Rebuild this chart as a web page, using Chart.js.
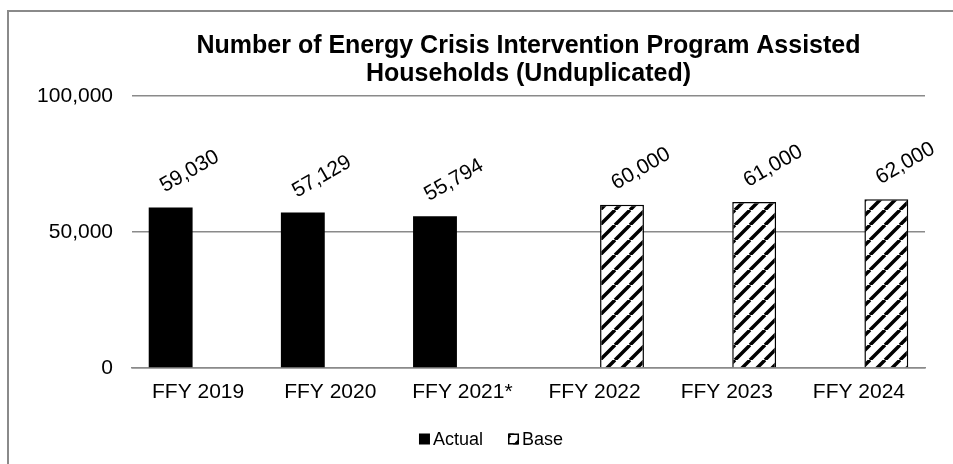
<!DOCTYPE html>
<html>
<head>
<meta charset="utf-8">
<script src="https://cdn.jsdelivr.net/npm/chart.js@4/dist/chart.umd.min.js"></script>
<style>
  html, body { margin: 0; padding: 0; background: #fff; }
  #wrap { position: relative; width: 953px; height: 464px; overflow: hidden; }
  #frame { position: absolute; left: 7px; top: 10px; right: -4px; bottom: -4px;
           border-left: 2px solid #8a8a8a; border-top: 2px solid #8a8a8a; }
  canvas { position: absolute; left: 0; top: 0; }
</style>
</head>
<body>
<div id="wrap">
  <div id="frame"></div>
  <canvas id="chart" width="953" height="464"></canvas>
</div>
<script>
// 数据
const categories = ['FFY 2019', 'FFY 2020', 'FFY 2021*', 'FFY 2022', 'FFY 2023', 'FFY 2024'];
const actualValues = [59030, 57129, 55794, null, null, null];
const baseValues = [null, null, null, 60000, 61000, 62000];
const yTicks = [0, 50000, 100000];
const titleLines = ['Number of Energy Crisis Intervention Program Assisted', 'Households (Unduplicated)'];

const FONT = "'Liberation Sans', Arial, sans-serif";

function fmt(v) { return v.toLocaleString('en-US'); }

// 斜线填充
function makeHatch() {
    const s = 15;
    const c = document.createElement('canvas');
    c.width = s; c.height = s;
    const g = c.getContext('2d');
    g.fillStyle = '#fff';
    g.fillRect(0, 0, s, s);
    g.strokeStyle = '#000';
    g.lineWidth = 3.5;
    g.beginPath();
    for (let k = -1; k <= 1; k++) {
        g.moveTo(k * s, s);
        g.lineTo(k * s + s, 0);
    }
    g.stroke();
    return g.createPattern(c, 'repeat');
}

// 数值标签（斜 30 度）
const barLabels = {
    id: 'barLabels',
    afterDatasetsDraw(chart) {
        const ctx = chart.ctx;
        ctx.save();
        ctx.font = '21px ' + FONT;
        ctx.fillStyle = '#000';
        ctx.textAlign = 'center';
        ctx.textBaseline = 'middle';
        chart.data.datasets.forEach((ds, i) => {
            chart.getDatasetMeta(i).data.forEach((el, j) => {
                const v = ds.data[j];
                if (v == null) return;
                ctx.save();
                ctx.translate(el.x + 19, el.y - 36);
                ctx.rotate(-Math.PI / 6);
                ctx.fillText(fmt(v), 0, 0);
                ctx.restore();
            });
        });
        ctx.restore();
    }
};

// 图例：方块紧贴文字
const bottomLegend = {
    id: 'bottomLegend',
    afterDraw(chart) {
        const ctx = chart.ctx;
        const box = 11, gap = 3, spacing = 25;
        ctx.save();
        ctx.font = '18px ' + FONT;
        const items = chart.data.datasets.map(ds => ({ ds, w: ctx.measureText(ds.label).width }));
        const total = items.reduce((s, it) => s + box + gap + it.w, 0) + spacing * (items.length - 1);
        let x = 491 - total / 2;
        const y = 440;
        ctx.textBaseline = 'middle';
        ctx.textAlign = 'left';
        items.forEach(it => {
            ctx.fillStyle = it.ds.backgroundColor;
            ctx.fillRect(x, y - box / 2 - 1, box, box);
            if (it.ds.borderWidth) {
                ctx.strokeStyle = '#000';
                ctx.lineWidth = 1.5;
                ctx.strokeRect(x + 0.75, y - box / 2 - 0.25, box - 1.5, box - 1.5);
            }
            ctx.fillStyle = '#000';
            ctx.fillText(it.ds.label, x + box + gap, y);
            x += box + gap + it.w + spacing;
        });
        ctx.restore();
    }
};

const hatch = makeHatch();

new Chart(document.getElementById('chart'), {
    type: 'bar',
    data: {
        labels: categories,
        datasets: [
            { label: 'Actual', data: actualValues, backgroundColor: '#000', borderColor: '#000', borderWidth: 0 },
            { label: 'Base', data: baseValues, backgroundColor: hatch, borderColor: '#000', borderWidth: 1.5 }
        ]
    },
    options: {
        responsive: false,
        animation: false,
        categoryPercentage: 0.83,
        barPercentage: 0.8,
        layout: { padding: { left: 8, right: 28, top: 14, bottom: 56 } },
        plugins: {
            title: {
                display: true,
                fullSize: false,
                text: titleLines,
                color: '#000',
                font: { family: FONT, size: 25, weight: 'bold', lineHeight: 1.12 },
                padding: { top: 18, bottom: 8 }
            },
            legend: { display: false },
            tooltip: { enabled: false }
        },
        scales: {
            x: {
                grid: { display: false },
                border: { color: '#8a8a8a', width: 1.5 },
                ticks: { color: '#000', font: { family: FONT, size: 21 }, padding: 4 },
                afterFit(scale) { scale.height = 40; }
            },
            y: {
                min: 0, max: 100000,
                afterBuildTicks(scale) { scale.ticks = yTicks.map(v => ({ value: v })); },
                grid: { color: '#8a8a8a', lineWidth: 1.5, drawTicks: false },
                border: { display: false },
                ticks: { color: '#000', font: { family: FONT, size: 21 }, padding: 19, callback: v => fmt(v) },
                afterFit(scale) { scale.width = 124; }
            }
        }
    },
    plugins: [barLabels, bottomLegend]
});
</script>
</body>
</html>
